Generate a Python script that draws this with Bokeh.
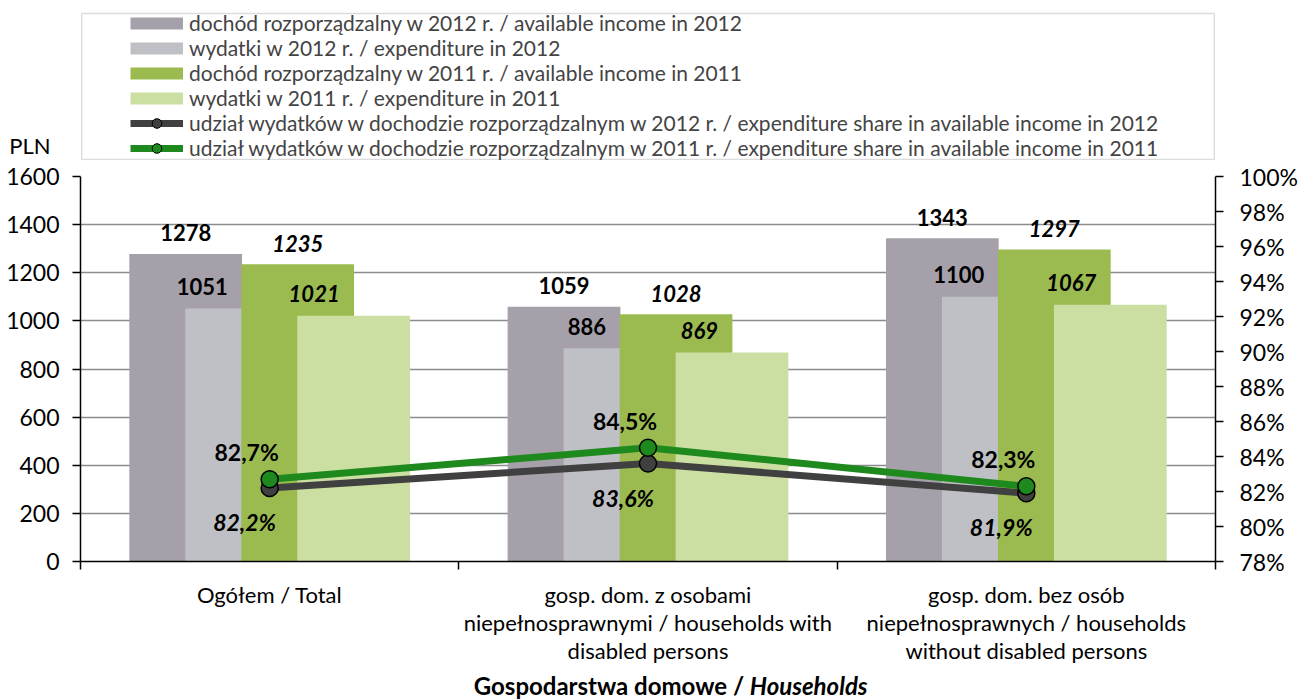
from bokeh.plotting import figure
from bokeh.layouts import column
from bokeh.models import (ColumnDataSource, FactorRange, Range1d, LinearAxis, CategoricalAxis,
                          FixedTicker, Legend, LegendItem, LabelSet, Label, BoxAnnotation,
                          PrintfTickFormatter)
from bokeh.transform import dodge
from bokeh.embed import file_html
from bokeh.resources import INLINE
from bokeh.core.properties import value

# ---------------- data ----------------
categories = [
    "Ogółem / Total",
    "gosp. dom. z osobami\nniepełnosprawnymi / households with\ndisabled persons",
    "gosp. dom. bez osób\nniepełnosprawnych / households\nwithout disabled persons",
]
income_2012 = [1278, 1059, 1343]
expenditure_2012 = [1051, 886, 1100]
income_2011 = [1235, 1028, 1297]
expenditure_2011 = [1021, 869, 1067]
share_2012 = [82.2, 83.6, 81.9]
share_2011 = [82.7, 84.5, 82.3]
left_ticks = [0, 200, 400, 600, 800, 1000, 1200, 1400, 1600]
right_ticks = [78, 80, 82, 84, 86, 88, 90, 92, 94, 96, 98, 100]
legend_labels = [
    "dochód rozporządzalny w 2012 r. / available income in 2012",
    "wydatki w 2012 r. / expenditure in 2012",
    "dochód rozporządzalny w 2011 r. / available income in 2011",
    "wydatki w 2011 r. / expenditure in 2011",
    "udział wydatków w dochodzie rozporządzalnym w 2012 r. / expenditure share in available income in 2012",
    "udział wydatków w dochodzie rozporządzalnym w 2011 r. / expenditure share in available income in 2011",
]
y_unit = "PLN"
x_title_a = "Gospodarstwa domowe /"
x_title_b = "Households"

# ---------------- styles ----------------
FONT = "Lato"
C_INC12 = "#A6A0AB"
C_EXP12 = "#BFC0C5"
C_INC11 = "#9BBB50"
C_EXP11 = "#CCDFA2"
C_L12 = "#404040"
C_L11 = "#1E8A1E"
GRID = "#8C8C8C"
W_TOTAL = 1303
H_TOP, H_MAIN, H_BOT = 160, 506, 34
NAN = float("nan")


def pct_txt(v):
    return f"{v:.1f}".replace(".", ",") + "%"


def strip_fig(h):
    # frame is aligned with the main chart's frame by the column layout;
    # x uses the same synthetic 0..3 category coordinates, y is pixels from the top
    f = figure(width=W_TOTAL, height=h, x_range=Range1d(0, 3), y_range=Range1d(h, 0),
               output_backend="svg", toolbar_location=None,
               x_axis_location=None, y_axis_location=None,
               min_border_left=80, min_border_right=88, min_border_top=0, min_border_bottom=0)
    f.outline_line_color = None
    f.xgrid.visible = False
    f.ygrid.visible = False
    f.background_fill_color = "white"
    f.border_fill_color = "white"
    return f


src = ColumnDataSource(dict(
    cat=categories,
    inc12=income_2012, exp12=expenditure_2012,
    inc11=income_2011, exp11=expenditure_2011,
    inc12_t=[str(v) for v in income_2012], exp12_t=[str(v) for v in expenditure_2012],
    inc11_t=[str(v) for v in income_2011], exp11_t=[str(v) for v in expenditure_2011],
    sh12=share_2012, sh11=share_2011,
    sh12_t=[pct_txt(v) for v in share_2012], sh11_t=[pct_txt(v) for v in share_2011],
))

# ================= top strip: legend + unit =================
top = strip_fig(H_TOP)
r1 = top.line(x=[NAN], y=[NAN], line_width=12, line_color=C_INC12)
r2 = top.line(x=[NAN], y=[NAN], line_width=12, line_color=C_EXP12)
r3 = top.line(x=[NAN], y=[NAN], line_width=12, line_color=C_INC11)
r4 = top.line(x=[NAN], y=[NAN], line_width=12, line_color=C_EXP11)
r5a = top.line(x=[NAN], y=[NAN], line_width=7, line_color=C_L12)
r5b = top.scatter(x=[NAN], y=[NAN], size=11, marker="circle", fill_color=C_L12, line_color="black")
r6a = top.line(x=[NAN], y=[NAN], line_width=7, line_color=C_L11)
r6b = top.scatter(x=[NAN], y=[NAN], size=11, marker="circle", fill_color=C_L11, line_color="black")
items = [LegendItem(label=legend_labels[0], renderers=[r1]),
         LegendItem(label=legend_labels[1], renderers=[r2]),
         LegendItem(label=legend_labels[2], renderers=[r3]),
         LegendItem(label=legend_labels[3], renderers=[r4]),
         LegendItem(label=legend_labels[4], renderers=[r5a, r5b]),
         LegendItem(label=legend_labels[5], renderers=[r6a, r6b])]
legend = Legend(items=items, location=(50, 0), glyph_width=53, glyph_height=24,
                label_height=24, spacing=-1, padding=2, label_standoff=6,
                label_text_font=FONT, label_text_font_size="21px",
                border_line_color=None, background_fill_alpha=0)
top.add_layout(legend)
top.add_layout(BoxAnnotation(left=0.003, right=2.997, top=13, bottom=159,
                             fill_alpha=0, line_color=GRID, line_width=1.5))
unit_axis = LinearAxis(ticker=FixedTicker(ticks=[145]), major_label_overrides={145: y_unit})
unit_axis.axis_line_color = None
unit_axis.major_tick_line_color = None
unit_axis.minor_tick_line_color = None
unit_axis.major_tick_out = 0
unit_axis.major_label_standoff = 30
unit_axis.major_label_text_font = FONT
unit_axis.major_label_text_font_size = "22px"
unit_axis.major_label_text_color = "black"
top.add_layout(unit_axis, "left")

# ================= main chart =================
p = figure(width=W_TOTAL, height=H_MAIN,
           x_range=FactorRange(factors=categories, range_padding=0),
           y_range=Range1d(0, 1600),
           output_backend="svg", toolbar_location=None,
           x_axis_location=None, y_axis_location="left",
           min_border_left=80, min_border_right=88,
           min_border_top=16, min_border_bottom=104)
p.outline_line_color = None
p.background_fill_color = "white"
p.border_fill_color = "white"
p.extra_y_ranges = {"pct": Range1d(78, 100)}

p.xgrid.visible = False
p.ygrid.ticker = FixedTicker(ticks=left_ticks)
p.ygrid.grid_line_color = GRID
p.ygrid.grid_line_width = 1.5

ya = p.yaxis[0]
ya.ticker = FixedTicker(ticks=left_ticks)
ya.axis_line_color = "black"
ya.axis_line_width = 1.5
ya.major_tick_line_color = "black"
ya.major_tick_line_width = 1.5
ya.major_tick_out = 8
ya.major_tick_in = 0
ya.minor_tick_line_color = None
ya.major_label_text_font = FONT
ya.major_label_text_font_size = "23px"
ya.major_label_text_color = "black"
ya.major_label_standoff = 13

ra = LinearAxis(y_range_name="pct", ticker=FixedTicker(ticks=right_ticks),
                formatter=PrintfTickFormatter(format="%d%%"))
ra.axis_line_color = "black"
ra.axis_line_width = 1.5
ra.major_tick_line_color = "black"
ra.major_tick_line_width = 1.5
ra.major_tick_out = 8
ra.major_tick_in = 0
ra.minor_tick_line_color = None
ra.major_label_text_font = FONT
ra.major_label_text_font_size = "23px"
ra.major_label_text_color = "black"
ra.major_label_standoff = 16
p.add_layout(ra, "right")

# boundary ticks (synthetic category coordinates), no labels + category labels axis
xt = LinearAxis(ticker=FixedTicker(ticks=[0, 1, 2, 3]),
                major_label_overrides={0: "", 1: "", 2: "", 3: ""})
xt.axis_line_color = "black"
xt.axis_line_width = 1.5
xt.major_tick_line_color = "black"
xt.major_tick_line_width = 1.5
xt.major_tick_out = 8
xt.major_tick_in = 0
xt.minor_tick_line_color = None
xt.major_label_text_font_size = "1px"
xt.major_label_standoff = 0
p.add_layout(xt, "below")

xc = CategoricalAxis()
xc.axis_line_color = None
xc.major_tick_line_color = None
xc.minor_tick_line_color = None
xc.major_label_text_font = FONT
xc.major_label_text_font_size = "22px"
xc.major_label_text_color = "black"
xc.major_label_text_line_height = 1.04
xc.major_label_standoff = 5
p.add_layout(xc, "below")

W = 0.298
bar_specs = [("inc12", -0.222, C_INC12), ("exp12", -0.074, C_EXP12),
             ("inc11", 0.074, C_INC11), ("exp11", 0.222, C_EXP11)]
for col, off, colr in bar_specs:
    p.vbar(x=dodge("cat", off, range=p.x_range), top=col, width=W, source=src,
           fill_color=colr, line_color=None)

p.line(x="cat", y="sh12", y_range_name="pct", source=src, line_width=7, line_color=C_L12)
p.line(x="cat", y="sh11", y_range_name="pct", source=src, line_width=7, line_color=C_L11)
p.scatter(x="cat", y="sh12", y_range_name="pct", source=src, size=17, marker="circle",
          fill_color=C_L12, line_color="black", line_width=1.5)
p.scatter(x="cat", y="sh11", y_range_name="pct", source=src, size=17, marker="circle",
          fill_color=C_L11, line_color="black", line_width=1.5)

lbl_common = dict(source=src, text_font=value(FONT), text_font_size="22px",
                  text_color="black", text_baseline="middle")
p.add_layout(LabelSet(x=dodge("cat", -0.222, range=p.x_range), y="inc12", text="inc12_t",
                      y_offset=21, text_align="center", text_font_style="bold", **lbl_common))
p.add_layout(LabelSet(x=dodge("cat", -0.074, range=p.x_range), y="exp12", text="exp12_t",
                      x_offset=-14, y_offset=22, text_align="right", text_font_style="bold", **lbl_common))
p.add_layout(LabelSet(x=dodge("cat", 0.074, range=p.x_range), y="inc11", text="inc11_t",
                      y_offset=21, text_align="center", text_font_style="bold italic", **lbl_common))
p.add_layout(LabelSet(x=dodge("cat", 0.222, range=p.x_range), y="exp11", text="exp11_t",
                      x_offset=-14, y_offset=22, text_align="right", text_font_style="bold italic", **lbl_common))
p.add_layout(LabelSet(x="cat", y="sh11", y_range_name="pct", text="sh11_t",
                      x_offset=-23, y_offset=27, text_align="center", text_font_style="bold",
                      **dict(lbl_common, text_font_size="23px")))
p.add_layout(LabelSet(x="cat", y="sh12", y_range_name="pct", text="sh12_t",
                      x_offset=-25, y_offset=-34, text_align="center", text_font_style="bold italic",
                      **dict(lbl_common, text_font_size="23px")))

# ================= bottom strip: axis title =================
bot = strip_fig(H_BOT)
bot.add_layout(Label(x=1.754, y=19, text=x_title_a, text_align="right", text_baseline="middle",
                     text_font=FONT, text_font_size="24px", text_font_style="bold", text_color="black"))
bot.add_layout(Label(x=1.769, y=19, text=x_title_b, text_align="left", text_baseline="middle",
                     text_font=FONT, text_font_size="24px", text_font_style="bold italic", text_color="black"))

layout = column(top, p, bot, spacing=0)
open("out.html", "w").write(file_html(layout, INLINE))
